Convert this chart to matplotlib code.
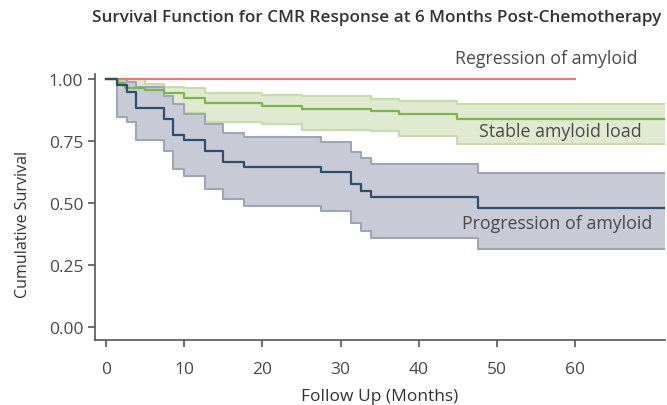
import matplotlib
matplotlib.use("Agg")
import matplotlib.pyplot as plt

# Kaplan-Meier estimates by CMR response group (time in months)
reg_time = [0, 60.0]
reg_surv = [1.0, 1.0]

stab_time = [0, 1.5, 2.5, 5.0, 7.4, 10.0, 12.6, 20.0, 25.1, 33.9, 37.5, 44.9]
stab_surv = [1.0, 0.983, 0.962, 0.955, 0.944, 0.923, 0.902, 0.892, 0.879, 0.870, 0.859, 0.839]
stab_lo = [1.0, 0.950, 0.920, 0.910, 0.890, 0.865, 0.825, 0.818, 0.796, 0.790, 0.769, 0.738]
stab_hi = [1.0, 1.0, 1.0, 0.980, 0.967, 0.963, 0.944, 0.937, 0.930, 0.919, 0.912, 0.899]

prog_time = [0, 1.4, 2.7, 3.8, 7.4, 8.6, 10.0, 12.6, 15.0, 17.6, 27.5, 31.3, 32.6, 33.9, 47.5]
prog_surv = [1.0, 0.975, 0.948, 0.883, 0.839, 0.776, 0.754, 0.711, 0.667, 0.644, 0.624, 0.577, 0.550, 0.523, 0.479]
prog_lo = [1.0, 0.846, 0.825, 0.754, 0.712, 0.637, 0.610, 0.556, 0.516, 0.489, 0.467, 0.419, 0.388, 0.360, 0.315]
prog_hi = [1.0, 1.0, 0.990, 0.970, 0.930, 0.900, 0.860, 0.819, 0.782, 0.765, 0.745, 0.704, 0.681, 0.657, 0.621]

follow_end = 71.5
x_ticks = [0, 10, 20, 30, 40, 50, 60]
y_ticks = [0.0, 0.25, 0.5, 0.75, 1.0]

plt.rcParams["font.family"] = ["Open Sans", "DejaVu Sans"]
TXT = "#4a4a4a"


def extend(t, *cols):
    return [list(t) + [follow_end]] + [list(c) + [c[-1]] for c in cols]


fig = plt.figure(figsize=(6.67, 4.06), dpi=100)
ax = fig.add_axes([0.1424, 0.160, 0.855, 0.655])

# confidence bands
st, ss, sl, sh = extend(stab_time, stab_surv, stab_lo, stab_hi)
ax.fill_between(st, sl, sh, step="post", color="#dfead0", lw=0, zorder=1)
ax.step(st, sl, where="post", color="#c6dcaa", lw=1.5, zorder=1.5)
ax.step(st, sh, where="post", color="#c6dcaa", lw=1.5, zorder=1.5)

pt, ps, pl, ph = extend(prog_time, prog_surv, prog_lo, prog_hi)
ax.fill_between(pt, pl, ph, step="post", color="#c8cad6", lw=0, zorder=2)
ax.step(pt, pl, where="post", color="#a0a5b6", lw=1.5, zorder=2.5)
ax.step(pt, ph, where="post", color="#a0a5b6", lw=1.5, zorder=2.5)

# survival curves
ax.step(reg_time, reg_surv, where="post", color="#f07868", lw=1.5, zorder=4)
ax.step(st, ss, where="post", color="#7ab648", lw=1.6, zorder=4)
ax.step(pt, ps, where="post", color="#2e4e6e", lw=1.6, zorder=4)

ax.set_xlim(-1.4, follow_end)
ax.set_ylim(-0.052, 1.02)
ax.set_xticks(x_ticks)
ax.set_yticks(y_ticks)
ax.set_xticklabels([str(v) for v in x_ticks])
ax.set_yticklabels([f"{v:.2f}" for v in y_ticks])

for s in ("top", "right"):
    ax.spines[s].set_visible(False)
for s in ("left", "bottom"):
    ax.spines[s].set_color("#555555")
    ax.spines[s].set_linewidth(1.2)
ax.tick_params(colors="#555555", labelcolor=TXT, labelsize=12.5, length=5, width=1.2)
ax.tick_params(axis="x", pad=10)

ax.set_xlabel("Follow Up (Months)", fontsize=12.5, color="#333333", labelpad=8)
ax.set_ylabel("Cumulative Survival", fontsize=11.5, color="#333333")
ax.yaxis.set_label_coords(-0.113, 0.44)

ax.text(68, 1.085, "Regression of amyloid", ha="right", va="center",
        fontsize=12.8, color=TXT, clip_on=False)
ax.text(58.1, 0.79, "Stable amyloid load", ha="center", va="center",
        fontsize=12.8, color=TXT, zorder=5)
ax.text(57.7, 0.419, "Progression of amyloid", ha="center", va="center",
        fontsize=12.8, color=TXT, zorder=5)

fig.text(0.564, 0.955, "Survival Function for CMR Response at 6 Months Post-Chemotherapy",
         ha="center", va="center", fontsize=12.3, fontweight="semibold", color="#333333")

fig.savefig("out.png", dpi=100)
